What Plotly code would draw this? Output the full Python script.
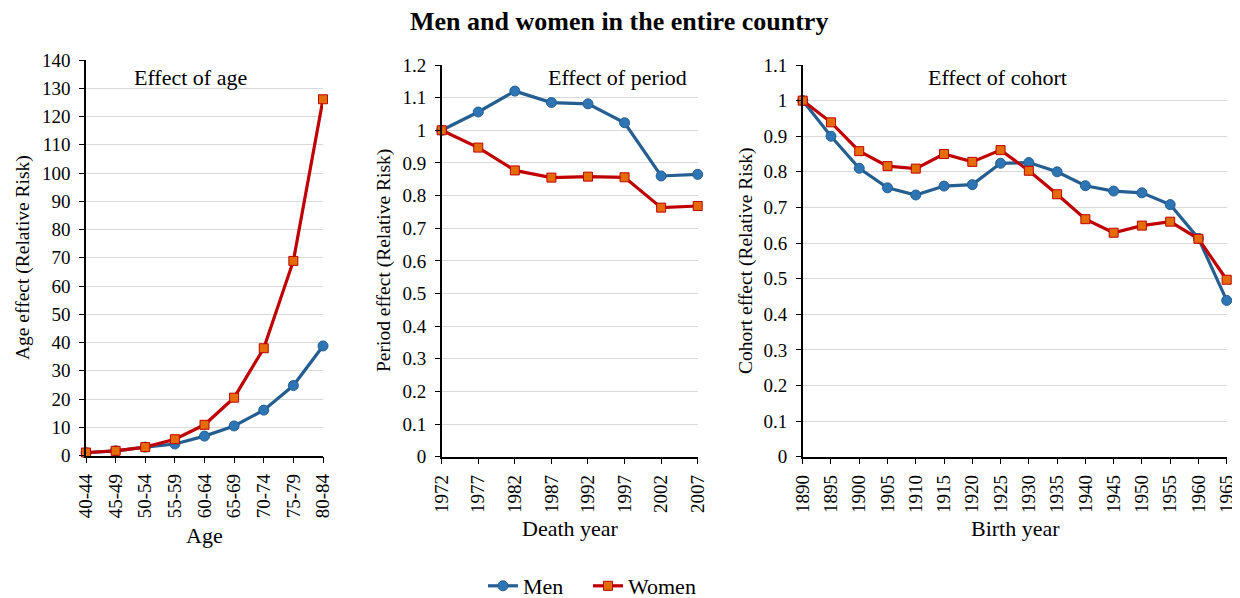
import plotly.graph_objects as go

# The page body has an 8px default margin; size the figure so it fits the 1240x598 window.
OFF = 8
W, H = 1240 - OFF, 598 - OFF

# ---- data ----
age_groups = ["40-44", "45-49", "50-54", "55-59", "60-64", "65-69", "70-74", "75-79", "80-84"]
age_men = [1.0, 1.7, 3.0, 4.1, 6.9, 10.5, 16.1, 24.8, 38.8]
age_women = [1.1, 1.7, 3.0, 5.8, 10.9, 20.5, 38.0, 68.9, 126.1]

death_years = ["1972", "1977", "1982", "1987", "1992", "1997", "2002", "2007"]
period_men = [1.0, 1.056, 1.120, 1.085, 1.081, 1.023, 0.860, 0.865]
period_women = [1.0, 0.947, 0.877, 0.855, 0.858, 0.856, 0.763, 0.768]

birth_years = ["1890", "1895", "1900", "1905", "1910", "1915", "1920", "1925",
               "1930", "1935", "1940", "1945", "1950", "1955", "1960", "1965"]
cohort_men = [1.0, 0.900, 0.810, 0.755, 0.735, 0.760, 0.764, 0.824,
              0.826, 0.800, 0.761, 0.746, 0.741, 0.708, 0.613, 0.439]
cohort_women = [1.0, 0.939, 0.858, 0.816, 0.809, 0.850, 0.828, 0.861,
                0.803, 0.737, 0.667, 0.629, 0.649, 0.660, 0.612, 0.497]

# ---- style ----
FONT = "Liberation Serif, Times New Roman, serif"
MEN_LINE = "#255E91"
MEN_FILL = "#2E75B6"
WOM_LINE = "#C00000"
WOM_FILL = "#E46C0A"
GRID = "#D9D9D9"

def px(x):
    return (x - OFF) / W

def py(y):
    return 1 - (y - OFF) / H

fig = go.Figure()

panels = [
    dict(cats=age_groups, men=age_men, women=age_women, ax="", ymax=140, dtick=10,
         xd=(86, 323), yd=(455.6, 60)),
    dict(cats=death_years, men=period_men, women=period_women, ax="2", ymax=1.2, dtick=0.1,
         xd=(441.7, 697.7), yd=(456.7, 65)),
    dict(cats=birth_years, men=cohort_men, women=cohort_women, ax="3", ymax=1.1, dtick=0.1,
         xd=(802.7, 1226.7), yd=(456.7, 65)),
]

for i, p in enumerate(panels):
    xa = "x" + p["ax"]
    ya = "y" + p["ax"]
    fig.add_trace(go.Scatter(
        x=p["cats"], y=p["men"], mode="lines+markers", name="Men",
        xaxis=xa, yaxis=ya, showlegend=(i == 0), cliponaxis=False, legend="legend",
        line=dict(color=MEN_LINE, width=3.2),
        marker=dict(symbol="circle", size=10, color=MEN_FILL, line=dict(color=MEN_LINE, width=1)),
    ))
    fig.add_trace(go.Scatter(
        x=p["cats"], y=p["women"], mode="lines+markers", name="Women",
        xaxis=xa, yaxis=ya, showlegend=(i == 0), cliponaxis=False, legend="legend2",
        line=dict(color=WOM_LINE, width=3.2),
        marker=dict(symbol="square", size=9, color=WOM_FILL, line=dict(color=WOM_LINE, width=1)),
    ))
    n = len(p["cats"])
    fig.update_layout(**{
        "xaxis" + p["ax"]: dict(
            type="category", domain=[px(p["xd"][0]), px(p["xd"][1])],
            range=[0, n - 1], anchor=ya, showgrid=False, showline=True,
            linecolor="black", linewidth=1.5, ticks="outside", ticklen=6,
            tickcolor="black", tickwidth=1.2, tickangle=-90, ticklabelstandoff=3,
            tickfont=dict(family=FONT, size=19, color="black"), zeroline=False,
            automargin=False,
        ),
        "yaxis" + p["ax"]: dict(
            domain=[py(p["yd"][0]), py(p["yd"][1])], range=[0, p["ymax"]],
            dtick=p["dtick"], tick0=0, anchor=xa, showgrid=True, gridcolor=GRID,
            gridwidth=1.2, showline=True, linecolor="black", linewidth=1.5,
            ticks="outside", ticklen=5, tickcolor="black", tickwidth=1.2,
            ticklabelstandoff=5,
            tickfont=dict(family=FONT, size=19, color="black"), zeroline=False,
            tickformat="~g", automargin=False,
        ),
    })

annotations = [
    dict(text="<b>Men and women in the entire country</b>", x=px(619), y=py(22),
         font=dict(size=26)),
    dict(text="Effect of age", x=px(191), y=py(77), font=dict(size=22)),
    dict(text="Effect of period", x=px(617), y=py(77), font=dict(size=22)),
    dict(text="Effect of cohort", x=px(997), y=py(77), font=dict(size=22)),
    dict(text="Age", x=px(204.5), y=py(535), font=dict(size=22)),
    dict(text="Death year", x=px(570), y=py(528), font=dict(size=22)),
    dict(text="Birth year", x=px(1015), y=py(528), font=dict(size=22)),
    dict(text="Age effect (Relative Risk)", x=px(23), y=py(258), textangle=-90, font=dict(size=19.5)),
    dict(text="Period effect (Relative Risk)", x=px(384), y=py(261), textangle=-90, font=dict(size=19.5)),
    dict(text="Cohort effect (Relative Risk)", x=px(746), y=py(261), textangle=-90, font=dict(size=19.5)),
]
for a in annotations:
    a.update(xref="paper", yref="paper", showarrow=False, xanchor="center", yanchor="middle")
    a["font"].update(family=FONT, color="black")

legend_style = dict(orientation="h", xanchor="left", y=py(586), yanchor="middle",
                    font=dict(family=FONT, size=22, color="black"),
                    bgcolor="rgba(0,0,0,0)")

fig.update_layout(
    width=W, height=H, autosize=False,
    margin=dict(l=0, r=0, t=0, b=0, pad=0, autoexpand=False),
    paper_bgcolor="white", plot_bgcolor="white",
    annotations=annotations,
    showlegend=True,
    legend=dict(x=px(483), **legend_style),
    legend2=dict(x=px(588), **legend_style),
)

fig.write_html("out.html")
